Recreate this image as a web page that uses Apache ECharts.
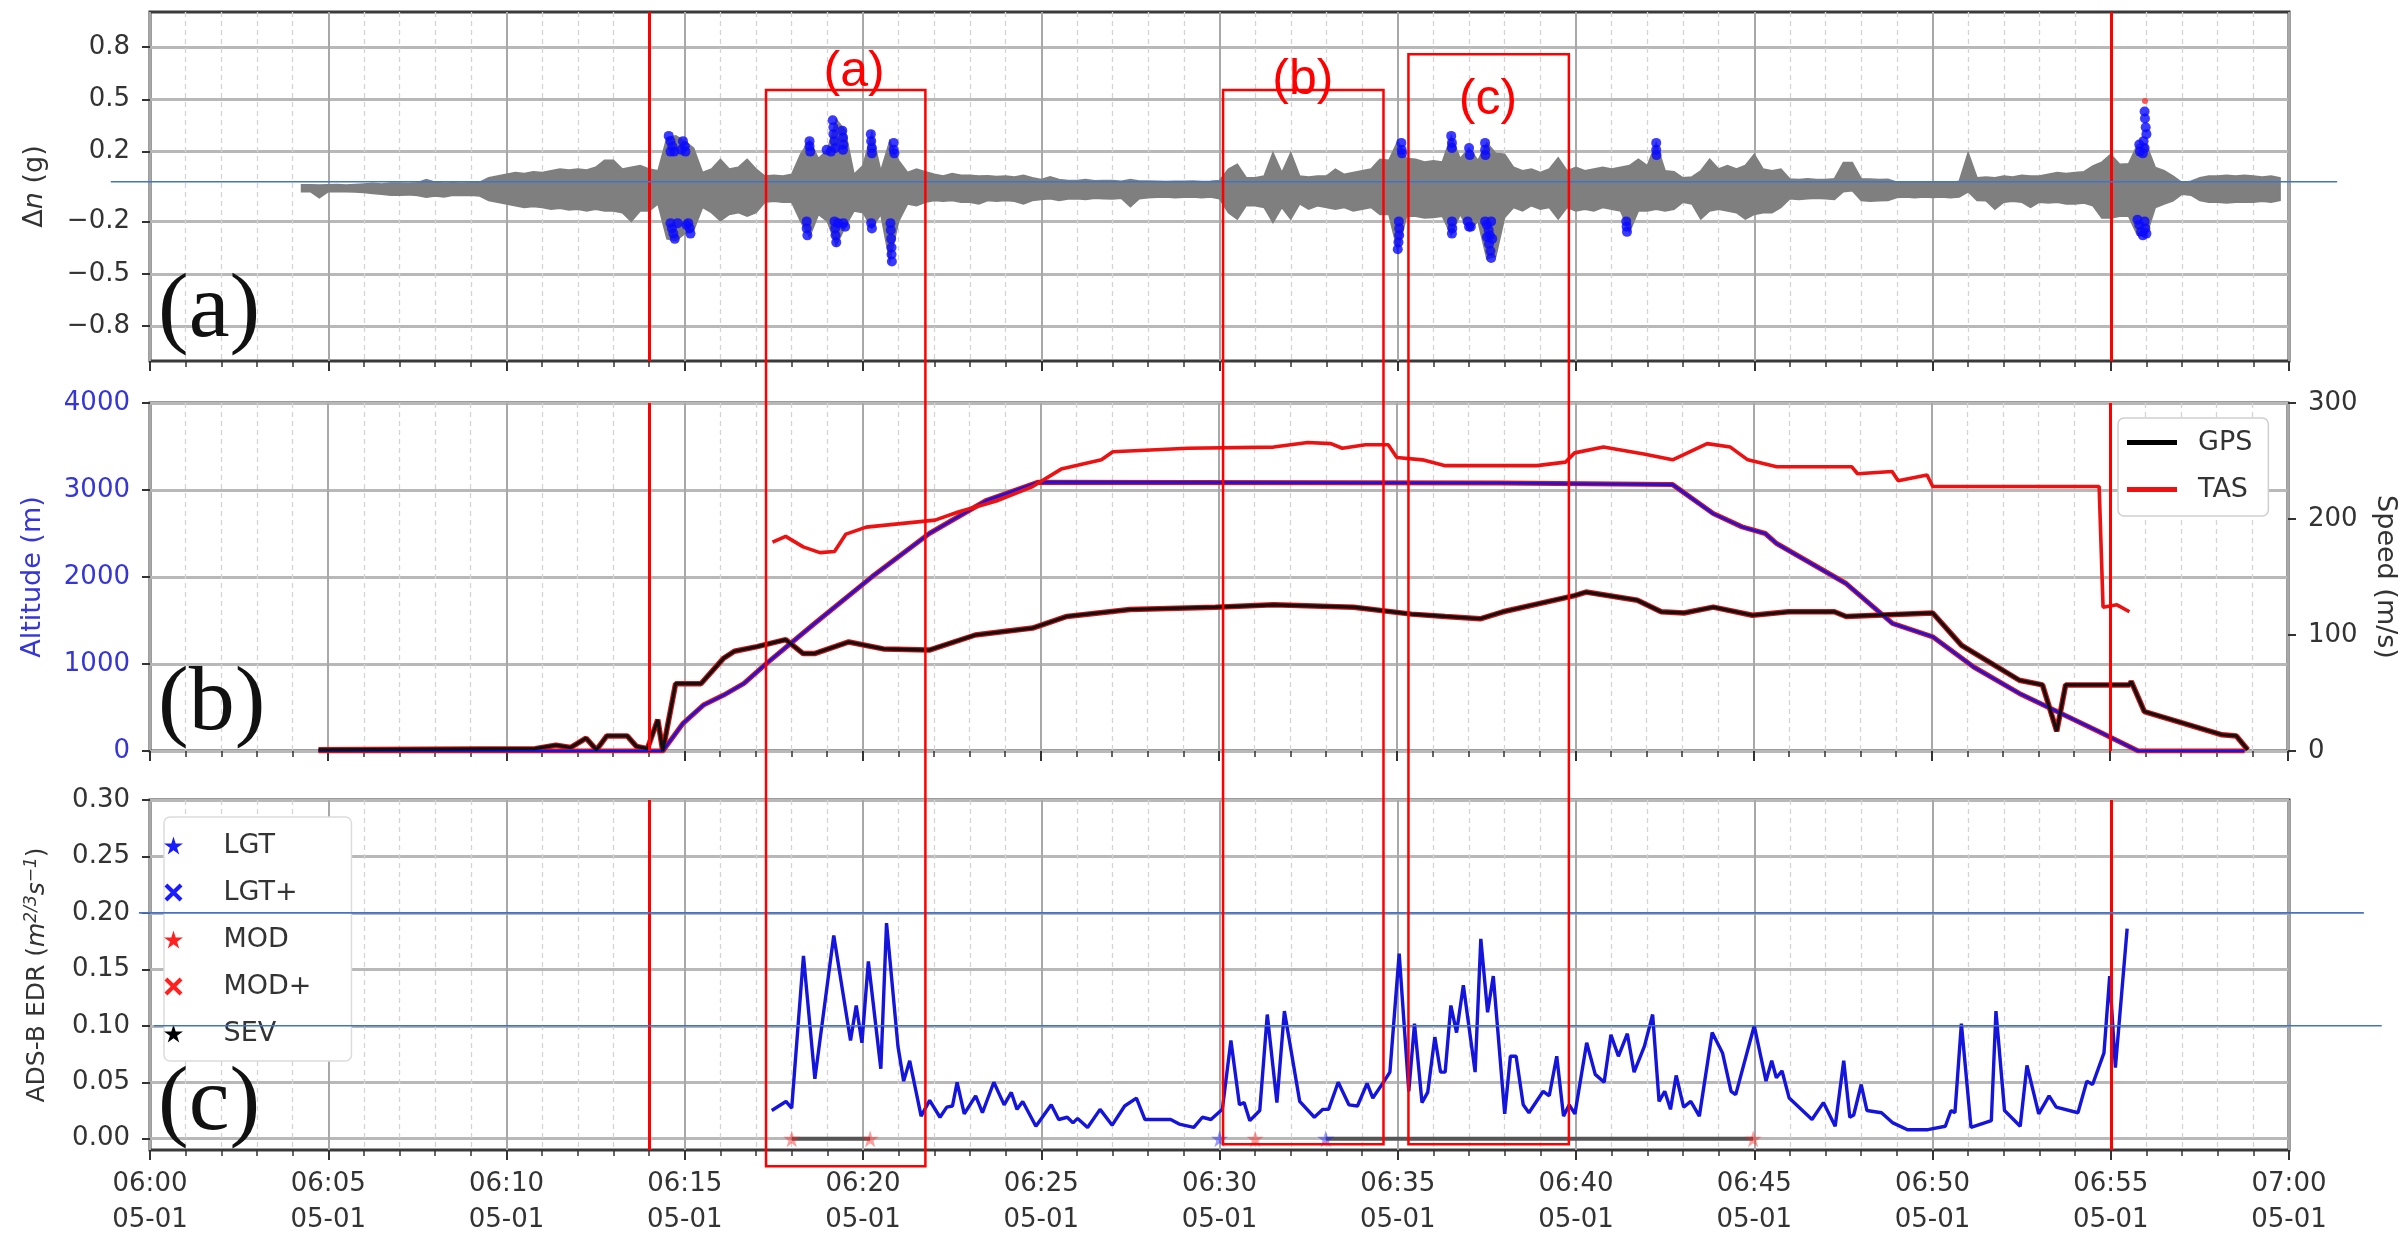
<!DOCTYPE html>
<html><head><meta charset="utf-8">
<script src="https://cdn.jsdelivr.net/npm/echarts@6/dist/echarts.min.js"></script>
<style>html,body{margin:0;padding:0;background:#fff}#c{width:2407px;height:1238px}</style>
</head><body><div id="c"></div>
<script>
// x values are minutes after 06:00 on 05-01
const xTickLabels = ['06:00\n05-01','06:05\n05-01','06:10\n05-01','06:15\n05-01','06:20\n05-01','06:25\n05-01','06:30\n05-01','06:35\n05-01','06:40\n05-01','06:45\n05-01','06:50\n05-01','06:55\n05-01','07:00\n05-01'];
const dnTicks = [-0.8,-0.5,-0.2,0.2,0.5,0.8];
const edrTicks = [0,0.05,0.10,0.15,0.20,0.25,0.30];
const redLines = [14, 55];

// (a) vertical acceleration band, 15 s samples starting 06:04:15 (upper / lower envelope, g)
const dnStart = 4.25, dnStep = 0.25;
const dnHi = [
0.010,0.010,0.008,
0.010,0.012,0.008,0.012, 0.015,0.018,0.015,0.020, 0.020,0.018,0.022,0.040, 0.025,0.020,0.022,0.020, 0.022,0.025,0.050,0.060,
0.070,0.080,0.075,0.085, 0.080,0.090,0.100,0.095, 0.100,0.095,0.110,0.150, 0.150,0.100,0.110,0.120, 0.100,0.090,0.280,0.290,
0.260,0.220,0.080,0.100, 0.156,0.100,0.110,0.156, 0.100,0.060,0.065,0.060, 0.070,0.185,0.265,0.160, 0.210,0.385,0.320,0.070,
0.120,0.310,0.090,0.260, 0.150,0.080,0.100,0.085, 0.070,0.060,0.075,0.065, 0.065,0.060,0.062,0.058, 0.060,0.055,0.065,0.050,
0.040,0.055,0.040,0.035, 0.035,0.040,0.033,0.035, 0.035,0.030,0.040,0.032, 0.032,0.030,0.028,0.030, 0.030,0.032,0.028,0.030,
0.035,0.100,0.128,0.050, 0.050,0.060,0.194,0.080, 0.194,0.060,0.055,0.060, 0.060,0.100,0.070,0.080, 0.090,0.100,0.156,0.150,
0.260,0.160,0.156,0.140, 0.147,0.140,0.290,0.160, 0.220,0.150,0.250,0.190, 0.185,0.110,0.090,0.100, 0.080,0.100,0.165,0.090,
0.110,0.090,0.100,0.110, 0.100,0.110,0.120,0.156, 0.120,0.250,0.090,0.085, 0.050,0.055,0.090,0.156, 0.100,0.120,0.100,0.120,
0.185,0.100,0.090,0.100, 0.043,0.040,0.045,0.040, 0.040,0.045,0.137,0.137, 0.045,0.043,0.040,0.042, 0.025,0.022,0.025,0.023,
0.023,0.025,0.022,0.030, 0.194,0.050,0.055,0.050, 0.060,0.055,0.065,0.060, 0.060,0.070,0.080,0.075, 0.080,0.085,0.118,0.140,
0.185,0.128,0.130,0.240, 0.240,0.109,0.090,0.060, 0.023,0.030,0.050,0.060, 0.060,0.065,0.060,0.065, 0.060,0.055,0.060,0.050];
const dnLo = [
-0.030,-0.030,-0.065,
-0.030,-0.028,-0.030,-0.032, -0.035,-0.040,-0.045,-0.050, -0.050,-0.048,-0.052,-0.062, -0.055,-0.060,-0.050,-0.052, -0.050,-0.055,-0.080,-0.090,
-0.100,-0.110,-0.120,-0.115, -0.120,-0.130,-0.125,-0.135, -0.130,-0.140,-0.130,-0.140, -0.140,-0.150,-0.200,-0.140, -0.140,-0.100,-0.300,-0.310,
-0.270,-0.250,-0.120,-0.150, -0.196,-0.160,-0.150,-0.170, -0.150,-0.090,-0.085,-0.090, -0.090,-0.200,-0.290,-0.160, -0.200,-0.340,-0.230,-0.140,
-0.150,-0.240,-0.160,-0.430, -0.200,-0.100,-0.110,-0.090, -0.080,-0.085,-0.080,-0.090, -0.090,-0.100,-0.080,-0.085, -0.080,-0.085,-0.100,-0.080,
-0.075,-0.070,-0.080,-0.072, -0.070,-0.075,-0.068,-0.070, -0.072,-0.068,-0.116,-0.070, -0.065,-0.062,-0.060,-0.065, -0.062,-0.060,-0.065,-0.060,
-0.070,-0.150,-0.187,-0.110, -0.110,-0.120,-0.206,-0.120, -0.187,-0.100,-0.130,-0.110, -0.120,-0.130,-0.120,-0.140, -0.130,-0.120,-0.160,-0.160,
-0.370,-0.170,-0.170,-0.180, -0.177,-0.170,-0.280,-0.160, -0.250,-0.200,-0.415,-0.400, -0.177,-0.120,-0.140,-0.110, -0.130,-0.120,-0.187,-0.120,
-0.140,-0.130,-0.140,-0.120, -0.130,-0.140,-0.260,-0.140, -0.140,-0.130,-0.140,-0.130, -0.090,-0.100,-0.187,-0.140, -0.130,-0.140,-0.150,-0.187,
-0.160,-0.150,-0.150,-0.120, -0.070,-0.075,-0.070,-0.068, -0.070,-0.075,-0.030,-0.025, -0.080,-0.085,-0.082,-0.080, -0.063,-0.060,-0.065,-0.060,
-0.063,-0.060,-0.065,-0.060, -0.030,-0.080,-0.082,-0.130, -0.090,-0.085,-0.090,-0.120, -0.090,-0.095,-0.090,-0.100, -0.100,-0.095,-0.110,-0.180,
-0.180,-0.170,-0.170,-0.280, -0.280,-0.120,-0.100,-0.082, -0.044,-0.050,-0.080,-0.090, -0.090,-0.095,-0.090,-0.090, -0.090,-0.085,-0.090,-0.080];

// (a) exceedance points
const dnBlue = [
[14.55,0.29],[14.6,0.26],[14.65,0.23],[14.7,0.2],[14.6,0.2],[14.95,0.26],[15.0,0.23],[15.02,0.2],[14.9,0.21],
[14.6,-0.21],[14.64,-0.24],[14.68,-0.27],[14.72,-0.3],[14.8,-0.21],[15.1,-0.21],[15.14,-0.24],[15.16,-0.27],[15.05,-0.22],
[18.5,0.26],[18.5,0.23],[18.52,0.2],[18.42,-0.2],[18.42,-0.24],[18.44,-0.28],
[18.98,0.21],[19.15,0.38],[19.17,0.34],[19.17,0.3],[19.2,0.26],[19.22,0.22],[19.42,0.32],[19.44,0.28],[19.45,0.24],[19.44,0.21],[19.1,0.2],
[19.2,-0.2],[19.22,-0.24],[19.23,-0.28],[19.25,-0.32],[19.45,-0.21],[19.5,-0.23],[19.3,-0.21],
[20.22,0.3],[20.23,0.26],[20.25,0.22],[20.25,0.19],[20.23,-0.21],[20.25,-0.24],
[20.86,0.25],[20.86,0.21],[20.88,0.19],[20.77,-0.21],[20.78,-0.25],[20.79,-0.3],[20.8,-0.35],[20.8,-0.39],[20.81,-0.43],
[35.1,0.25],[35.11,0.21],[35.12,0.19],[35.03,-0.2],[35.04,-0.24],[35.04,-0.28],[35.02,-0.32],[35.0,-0.36],
[36.5,0.29],[36.52,0.25],[36.52,0.22],[36.52,-0.2],[36.53,-0.24],[36.52,-0.27],
[37.0,0.22],[37.02,0.18],[36.96,-0.2],[37.0,-0.23],[37.05,-0.23],
[37.45,0.25],[37.45,0.21],[37.46,0.18],[37.45,-0.2],[37.5,-0.22],[37.55,-0.25],[37.62,-0.2],[37.5,-0.29],[37.56,-0.33],[37.6,-0.37],[37.62,-0.41],[37.58,-0.28],[37.65,-0.3],
[41.41,-0.2],[41.42,-0.23],[41.43,-0.26],
[42.25,0.25],[42.25,0.21],[42.26,0.18],
[55.8,0.24],[55.82,0.2],[55.95,0.43],[55.96,0.39],[55.98,0.34],[56.0,0.3],[55.92,0.26],[55.95,0.22],[55.9,0.19],
[55.75,-0.19],[55.8,-0.22],[55.85,-0.26],[55.9,-0.28],[55.97,-0.24],[56.0,-0.27],[55.95,-0.2]];
const dnRed = [[55.96,0.49]];

// (b) altitude (m), GPS ground speed and TAS (m/s)
const altT = [4.73,14.39,14.96,15.53,16.1,16.67,17.28,18.65,20.26,21.87,23.48,24.93,37.87,42.73,43.87,44.68,45.33,45.65,47.6,48.9,50.03,51.17,52.46,53.43,54.7,55.7,55.8,58.78];
const altV = [0,0,318,528,643,777,999,1466,2002,2500,2882,3090,3080,3062,2729,2576,2500,2385,1925,1466,1313,968,662,471,222,19,0,0];
const gpsT = [4.73,10.81,11.39,11.8,12.24,12.53,12.82,13.39,13.65,13.96,14.25,14.39,14.75,15.46,16.1,16.4,17.04,17.84,18.33,18.65,19.61,20.58,21.87,23.16,24.77,25.73,27.5,29.9,31.53,33.78,35.4,36.35,37.33,37.97,39.98,40.3,41.74,42.41,43.05,43.87,44.97,45.98,47.27,47.6,50.03,50.84,52.46,53.11,53.51,53.76,55.55,55.6,55.97,58.15,58.55,58.87];
const gpsV = [1,2,5,3,11,1,13,13,4,2,27,0,58,58,80,86,90,96,84,84,94,88,87,100,106,116,122,124,126,124,118,116,114,120,134,137,130,120,119,124,117,120,120,116,119,91,61,57,17,57,57,60,34,14,13,1];
const tasT = [17.47,17.84,18.33,18.8,19.21,19.53,20.1,21.06,22.03,22.68,23.8,24.77,25.57,26.7,27.02,29.12,31.53,32.49,33.14,33.46,34.11,34.75,34.99,35.71,36.35,38.92,39.72,39.98,40.79,41.92,42.73,43.7,44.35,44.84,45.65,47.76,47.92,48.89,49.06,49.87,50.03,54.7,54.81,55.2,55.55];
const tasV = [180,185,176,171,172,187,193,196,199,206,216,228,243,251,258,261,262,266,265,261,264,264,253,251,246,246,249,257,262,256,251,265,262,251,245,245,239,241,233,238,228,228,124,126,120];

// (c) ADS-B EDR
const edrT = [17.44,17.84,18.0,18.33,18.65,19.18,19.65,19.81,19.97,20.15,20.5,20.66,20.98,21.14,21.31,21.63,21.87,22.16,22.35,22.51,22.64,22.84,23.16,23.35,23.67,23.96,24.16,24.32,24.48,24.85,25.28,25.49,25.73,25.89,26.02,26.3,26.65,26.99,27.34,27.67,27.91,28.63,28.87,29.28,29.52,29.76,30.08,30.32,30.56,30.69,30.85,31.13,31.34,31.61,31.82,32.25,32.66,32.9,33.06,33.33,33.63,33.87,34.14,34.3,34.62,34.78,35.04,35.31,35.47,35.68,35.84,36.04,36.2,36.33,36.49,36.65,36.84,37.17,37.33,37.52,37.68,38.0,38.16,38.32,38.52,38.68,39.08,39.25,39.46,39.65,39.81,39.97,40.3,40.54,40.79,40.98,41.19,41.44,41.63,41.92,42.15,42.33,42.49,42.65,42.81,43.02,43.22,43.46,43.82,44.11,44.35,44.48,45.0,45.33,45.49,45.62,45.78,45.98,46.62,46.94,47.27,47.51,47.68,47.79,48.0,48.16,48.57,48.89,49.3,49.87,50.36,50.52,50.63,50.81,51.08,51.65,51.78,52.02,52.46,52.65,52.98,53.27,53.47,54.08,54.33,54.49,54.81,54.97,55.13,55.46];
const edrV = [0.025,0.033,0.027,0.162,0.053,0.180,0.087,0.118,0.085,0.157,0.062,0.191,0.082,0.051,0.069,0.020,0.034,0.019,0.028,0.029,0.050,0.022,0.038,0.023,0.050,0.030,0.041,0.026,0.033,0.011,0.030,0.017,0.019,0.014,0.018,0.010,0.026,0.012,0.029,0.036,0.017,0.017,0.013,0.010,0.019,0.017,0.026,0.087,0.030,0.032,0.016,0.025,0.110,0.032,0.113,0.033,0.019,0.026,0.026,0.050,0.030,0.029,0.049,0.036,0.051,0.059,0.164,0.042,0.102,0.032,0.041,0.090,0.059,0.059,0.118,0.094,0.136,0.059,0.177,0.112,0.144,0.022,0.073,0.073,0.030,0.023,0.042,0.038,0.073,0.020,0.030,0.022,0.085,0.057,0.050,0.092,0.073,0.093,0.059,0.082,0.110,0.033,0.042,0.026,0.056,0.028,0.033,0.020,0.094,0.076,0.042,0.039,0.100,0.051,0.069,0.054,0.060,0.036,0.017,0.032,0.011,0.069,0.019,0.021,0.048,0.025,0.023,0.014,0.008,0.008,0.011,0.025,0.023,0.102,0.010,0.016,0.113,0.025,0.011,0.065,0.022,0.038,0.028,0.023,0.051,0.048,0.076,0.144,0.063,0.186];
const lgtT = [30.0, 32.98];
const modT = [18.0, 20.2, 31.0, 44.97];
const spanSegs = [[18.0, 20.2], [32.98, 44.97]];

// annotation boxes (time range, top in panel-a units, bottom in panel-c units)
const boxT0 = [17.28, 30.1, 35.3];
const boxT1 = [21.75, 34.6, 39.8];
const boxTopA = [0.553, 0.553, 0.758];
const boxBotC = [-0.0245, -0.005, -0.005];
const boxNames = ['(a)', '(b)', '(c)'];
const boxLabelT = [19.75, 32.34, 37.53];
const boxLabelA = [0.656, 0.61, 0.496];

const STAR = 'path://M50,0 L61,35 L98,35 L68,57 L79,91 L50,70 L21,91 L32,57 L2,35 L39,35 Z';
const XSYM = 'path://M0,16 L16,0 L50,34 L84,0 L100,16 L66,50 L100,84 L84,100 L50,66 L16,100 L0,84 L34,50 Z';
const LINEICON = 'path://M0,0 H60 V6 H0 Z';
const FONT = 'DejaVu Sans';
const TXT = '#333';

const zip = (a, b) => a.map((v, i) => [v, b[i]]);

const gridBase = { left: 150, right: 118, show: true, borderColor: '#3a3a3a', borderWidth: 3, backgroundColor: '#fff' };
const grids = [
  Object.assign({ top: 12, height: 349 }, gridBase),
  Object.assign({ top: 403, height: 348 }, gridBase),
  Object.assign({ top: 800, height: 350 }, gridBase)
];

function xAxisFor(i) {
  return {
    type: 'value', gridIndex: i, min: 0, max: 60, interval: 5, position: 'bottom',
    axisLine: { show: false, onZero: false },
    axisTick: { show: true, length: 10, lineStyle: { color: '#333', width: 2 } },
    minorTick: { show: true, splitNumber: 5, length: 6, lineStyle: { color: '#333', width: 1.5 } },
    splitLine: { show: true, lineStyle: { color: '#a8a8a8', width: 2 } },
    minorSplitLine: { show: true, lineStyle: { color: '#d4d4d4', width: 1.3, type: [5, 4] } },
    axisLabel: {
      show: i === 2, fontFamily: FONT, fontSize: 26, color: TXT, lineHeight: 36, margin: 16,
      formatter: v => xTickLabels[Math.round(v / 5)]
    }
  };
}

const ySplit = { show: true, lineStyle: { color: '#b8b8b8', width: 3 } };
const yTick = { show: true, length: 8, lineStyle: { color: '#333', width: 2 } };

const markRed = {
  silent: true, symbol: ['none', 'none'], label: { show: false },
  lineStyle: { color: '#ff0000', width: 3, type: 'solid' },
  emphasis: { disabled: true },
  data: redLines.map(t => ({ xAxis: t }))
};

const series = [];
// (a) band
series.push({
  type: 'custom', name: 'dn', xAxisIndex: 0, yAxisIndex: 0, silent: true, z: 2,
  data: dnHi.map((h, i) => [dnStart + i * dnStep, h, dnLo[i]]),
  renderItem: (params, api) => {
    if (params.dataIndex !== 0) return null;
    const pts = [];
    for (let i = 0; i < dnHi.length; i++) pts.push(api.coord([dnStart + i * dnStep, dnHi[i]]));
    for (let i = dnHi.length - 1; i >= 0; i--) pts.push(api.coord([dnStart + i * dnStep, dnLo[i]]));
    return { type: 'polygon', shape: { points: pts }, style: { fill: '#7f7f7f', stroke: '#7f7f7f', lineWidth: 1.5 } };
  },
  encode: { x: 0, y: [1, 2] }
});
series.push({ type: 'scatter', name: 'dnBlue', xAxisIndex: 0, yAxisIndex: 0, silent: true, symbolSize: 10,
  itemStyle: { color: '#0a0aff' }, data: dnBlue, z: 3, markLine: markRed });
series.push({ type: 'scatter', name: 'dnRed', xAxisIndex: 0, yAxisIndex: 0, silent: true, symbolSize: 6,
  itemStyle: { color: '#ff3030' }, data: dnRed, z: 3 });

// (b)
series.push({ type: 'line', name: 'altR', xAxisIndex: 1, yAxisIndex: 1, showSymbol: false, silent: true,
  lineStyle: { color: '#e01010', width: 5 }, data: zip(altT, altV), z: 2 });
series.push({ type: 'line', name: 'Altitude', xAxisIndex: 1, yAxisIndex: 1, showSymbol: false, silent: true,
  lineStyle: { color: '#1414ee', width: 2.6 }, data: zip(altT, altV), z: 3, markLine: markRed });
series.push({ type: 'line', name: 'gpsR', xAxisIndex: 1, yAxisIndex: 2, showSymbol: false, silent: true,
  lineStyle: { color: '#d01010', width: 5.5 }, data: zip(gpsT, gpsV), z: 2 });
series.push({ type: 'line', name: 'GPS', xAxisIndex: 1, yAxisIndex: 2, showSymbol: false, silent: true,
  itemStyle: { color: '#000' }, lineStyle: { color: '#111', width: 3.2 }, data: zip(gpsT, gpsV), z: 3 });
series.push({ type: 'line', name: 'TAS', xAxisIndex: 1, yAxisIndex: 2, showSymbol: false, silent: true,
  itemStyle: { color: '#ee1111' }, lineStyle: { color: '#ee1111', width: 3.6 }, data: zip(tasT, tasV), z: 3 });

// (c)
series.push({ type: 'line', name: 'EDR', xAxisIndex: 2, yAxisIndex: 3, showSymbol: false, silent: true,
  lineStyle: { color: '#1414dc', width: 3.4 }, data: zip(edrT, edrV), z: 3, markLine: markRed });
spanSegs.forEach((s, k) => series.push({ type: 'line', name: 'span' + k, xAxisIndex: 2, yAxisIndex: 3, showSymbol: false, silent: true,
  lineStyle: { color: '#555', width: 4 }, data: [[s[0], 0], [s[1], 0]], z: 2 }));
series.push({ type: 'scatter', name: 'LGT', xAxisIndex: 2, yAxisIndex: 3, symbol: STAR, symbolSize: 17, silent: true,
  itemStyle: { color: 'rgba(26,26,255,0.55)' }, data: lgtT.map(t => [t, 0]), z: 4 });
series.push({ type: 'scatter', name: 'LGT+', xAxisIndex: 2, yAxisIndex: 3, symbol: XSYM, symbolSize: 16, silent: true,
  itemStyle: { color: '#1a1aff' }, data: [], z: 4 });
series.push({ type: 'scatter', name: 'MOD', xAxisIndex: 2, yAxisIndex: 3, symbol: STAR, symbolSize: 17, silent: true,
  itemStyle: { color: 'rgba(255,32,32,0.55)' }, data: modT.map(t => [t, 0]), z: 4 });
series.push({ type: 'scatter', name: 'MOD+', xAxisIndex: 2, yAxisIndex: 3, symbol: XSYM, symbolSize: 16, silent: true,
  itemStyle: { color: '#ff2020' }, data: [], z: 4 });
series.push({ type: 'scatter', name: 'SEV', xAxisIndex: 2, yAxisIndex: 3, symbol: STAR, symbolSize: 16, silent: true,
  itemStyle: { color: '#000' }, data: [], z: 4 });

const option = {
  animation: false,
  backgroundColor: '#fff',
  grid: grids,
  xAxis: [xAxisFor(0), xAxisFor(1), xAxisFor(2)],
  yAxis: [
    { type: 'value', gridIndex: 0, min: -1, max: 1,
      axisLine: { show: false, onZero: false }, axisTick: Object.assign({ customValues: dnTicks }, yTick), splitLine: ySplit,
      axisLabel: { customValues: dnTicks, fontFamily: FONT, fontSize: 26, color: TXT, margin: 20,
        formatter: v => (v < 0 ? '\u2212' : '') + Math.abs(v).toFixed(1) },
      name: '{r|\u0394}{it|n}{r| (g)}', nameLocation: 'middle', nameRotate: 90, nameGap: 102,
      nameTextStyle: { rich: {
        r: { fontFamily: FONT, fontSize: 27, color: TXT },
        it: { fontFamily: FONT, fontSize: 27, color: TXT, fontStyle: 'italic' } } } },
    { type: 'value', gridIndex: 1, min: 0, max: 4000, interval: 1000,
      axisLine: { show: false, onZero: false }, axisTick: yTick, splitLine: ySplit,
      axisLabel: { fontFamily: FONT, fontSize: 26, color: '#3535d8', margin: 20, formatter: v => String(v) },
      name: 'Altitude (m)', nameLocation: 'middle', nameRotate: 90, nameGap: 104,
      nameTextStyle: { fontFamily: FONT, fontSize: 27, color: '#3535d8' } },
    { type: 'value', gridIndex: 1, position: 'right', min: 0, max: 300, interval: 100,
      axisLine: { show: false, onZero: false }, axisTick: yTick, splitLine: { show: false },
      axisLabel: { fontFamily: FONT, fontSize: 26, color: TXT, margin: 20, formatter: v => String(v) },
      name: 'Speed (m/s)', nameLocation: 'middle', nameRotate: -90, nameGap: 84,
      nameTextStyle: { fontFamily: FONT, fontSize: 27, color: TXT } },
    { type: 'value', gridIndex: 2, min: -0.01, max: 0.30,
      axisLine: { show: false, onZero: false }, axisTick: Object.assign({ customValues: edrTicks }, yTick), splitLine: ySplit,
      axisLabel: { customValues: edrTicks, fontFamily: FONT, fontSize: 26, color: TXT, margin: 20,
        formatter: v => v.toFixed(2) },
      name: 'ADS-B EDR ({it|m}{sup|2/3}{it|s}{sup|\u22121})', nameLocation: 'middle', nameRotate: 90, nameGap: 98,
      nameTextStyle: { fontFamily: FONT, fontSize: 25, color: TXT, rich: {
        it: { fontFamily: FONT, fontSize: 25, color: TXT, fontStyle: 'italic' },
        sup: { fontFamily: FONT, fontSize: 17, color: TXT, fontStyle: 'italic', padding: [0, 0, 12, 0] } } } }
  ],
  legend: [
    { data: [{ name: 'GPS', icon: LINEICON }, { name: 'TAS', icon: LINEICON }],
      orient: 'vertical', left: 2118, top: 418, padding: [11, 16, 13, 9], itemWidth: 58, itemHeight: 5, itemGap: 20,
      selectedMode: false, backgroundColor: '#fff', borderColor: '#cfcfcf', borderWidth: 1.5, borderRadius: 6,
      textStyle: { fontFamily: FONT, fontSize: 27, color: TXT, padding: [0, 0, 0, 12] } },
    { data: [
        { name: 'LGT', icon: STAR, itemStyle: { color: '#1a1aff', opacity: 1 } },
        { name: 'LGT+', icon: XSYM, itemStyle: { color: '#1a1aff', opacity: 1 } },
        { name: 'MOD', icon: STAR, itemStyle: { color: '#ff2020', opacity: 1 } },
        { name: 'MOD+', icon: XSYM, itemStyle: { color: '#ff2020', opacity: 1 } },
        { name: 'SEV', icon: STAR, itemStyle: { color: '#000', opacity: 1 } }],
      orient: 'vertical', left: 164, top: 817, padding: [15, 40, 14, 0], itemWidth: 80, itemHeight: 18, itemGap: 20,
      selectedMode: false, backgroundColor: '#fff', borderColor: '#dcdcdc', borderWidth: 1.5, borderRadius: 6,
      textStyle: { fontFamily: FONT, fontSize: 27, color: TXT, padding: [0, 0, 0, 5] } }
  ],
  series: series
};

const chart = echarts.init(document.getElementById('c'), null, { renderer: 'canvas' });
chart.setOption(option);

// overlays positioned through the chart's own scales
const px = t => chart.convertToPixel({ xAxisIndex: 0 }, t);
const pyA = v => chart.convertToPixel({ yAxisIndex: 0 }, v);
const pyC = v => chart.convertToPixel({ yAxisIndex: 3 }, v);
const g = [];
boxT0.forEach((t0, i) => {
  const x0 = px(t0), x1 = px(boxT1[i]), y0 = pyA(boxTopA[i]), y1 = pyC(boxBotC[i]);
  g.push({ type: 'rect', z: 100, silent: true, shape: { x: x0, y: y0, width: x1 - x0, height: y1 - y0 },
    style: { fill: 'none', stroke: '#ff0000', lineWidth: 2.5 } });
  g.push({ type: 'text', z: 101, silent: true, x: px(boxLabelT[i]), y: pyA(boxLabelA[i]),
    style: { text: boxNames[i], fill: '#ff0000', font: '50px "Liberation Sans Narrow", "Liberation Sans"', textAlign: 'center', textVerticalAlign: 'middle' } });
});
// blue annotation lines
const blueLines = [
  { y: pyA(0.027), t0: -1.1, t1: 61.35 },
  { y: pyC(0.20), t0: -0.31, t1: 62.1 },
  { y: pyC(0.10), t0: 0.11, t1: 62.6 }
];
blueLines.forEach(b => g.push({ type: 'line', z: 99, silent: true,
  shape: { x1: px(b.t0), y1: b.y, x2: px(b.t1), y2: b.y }, style: { stroke: '#4472c4', lineWidth: 1.6 } }));
// panel letters
[['(a)', 312], ['(b)', 705], ['(c)', 1105]].forEach(p => g.push({ type: 'text', z: 98, silent: true, x: 158, y: p[1],
  style: { text: p[0], fill: '#111', font: '92px "Liberation Serif"', textAlign: 'left', textVerticalAlign: 'middle' } }));
chart.setOption({ graphic: g });
</script></body></html>
